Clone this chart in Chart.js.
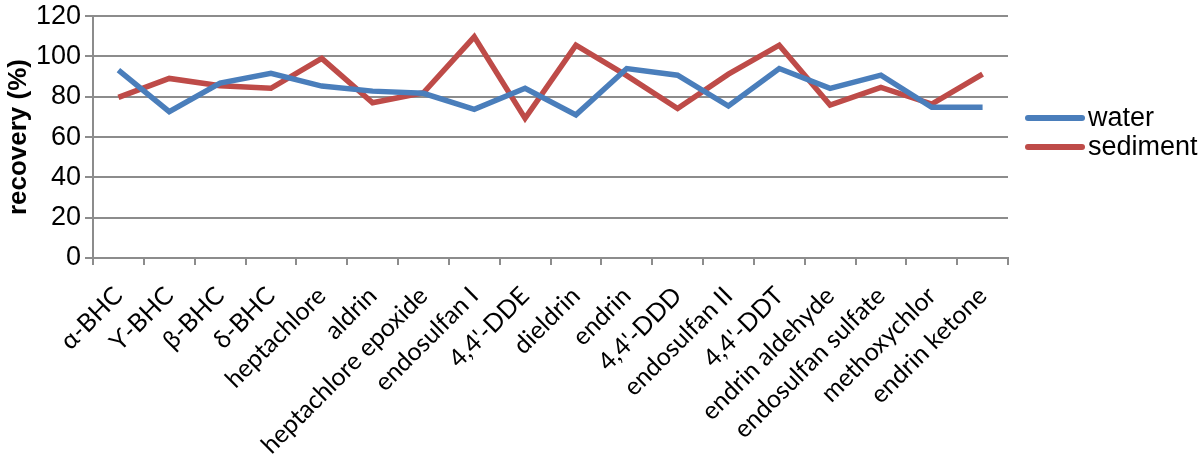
<!DOCTYPE html>
<html>
<head>
<meta charset="utf-8">
<script src="https://cdn.jsdelivr.net/npm/chart.js@4"></script>
<style>
  html, body { margin: 0; padding: 0; background: #fff; }
  #wrap { position: relative; width: 1200px; height: 457px; overflow: hidden; }
  #legend { position: absolute; left: 1025px; top: 103px; font-family: 'Liberation Sans', Arial, sans-serif; font-size: 27px; color: #000; }
  .item { display: flex; align-items: center; height: 29px; white-space: nowrap; }
  .swatch { width: 60px; height: 6px; border-radius: 3px; margin-right: 3px; }
</style>
</head>
<body>
<div id="wrap">
  <canvas id="recoveryChart" width="1200" height="457"></canvas>
  <div id="legend"></div>
</div>
<script>
// pesticides on the x axis
const compounds = ['α-BHC', 'Ƴ-BHC', 'β-BHC', 'δ-BHC', 'heptachlore', 'aldrin',
  'heptachlore epoxide', 'endosulfan I', "4,4'-DDE", 'dieldrin', 'endrin', "4,4'-DDD",
  'endosulfan II', "4,4'-DDT", 'endrin aldehyde', 'endosulfan sulfate', 'methoxychlor', 'endrin ketone'];

// recovery (%)
const water = [93.2, 72.6, 86.8, 91.6, 85.3, 82.8, 81.7, 73.8, 84.2, 71, 94, 90.7, 75.4, 94, 84.2, 90.7, 74.8, 74.8];
const sediment = [79.7, 89.1, 85.5, 84.2, 99, 77, 82, 109.7, 69.3, 105.6, 90.5, 74.2, 91.2, 105.6, 75.9, 84.6, 76.4, 91.2];

const yTicks = [0, 20, 40, 60, 80, 100, 120];

const gridGrey = '#8c8c8c';

const chart = new Chart(document.getElementById('recoveryChart'), {
  type: 'line',
  data: {
    labels: compounds,
    datasets: [
      { label: 'water', data: water, borderColor: '#4a7ebb', backgroundColor: '#4a7ebb',
        borderWidth: 5.5, pointRadius: 0, tension: 0 },
      { label: 'sediment', data: sediment, borderColor: '#be4b48', backgroundColor: '#be4b48',
        borderWidth: 5.5, pointRadius: 0, tension: 0 }
    ]
  },
  options: {
    responsive: false,
    animation: false,
    layout: { padding: { top: 0, right: 192, left: 0, bottom: 0 } },
    plugins: {
      tooltip: { enabled: false },
      legend: { display: false }
    },
    scales: {
      x: {
        offset: true,
        grid: { offset: true, drawOnChartArea: false, color: gridGrey, lineWidth: 2, tickLength: 7 },
        border: { color: gridGrey, width: 2 },
        ticks: {
          autoSkip: false, minRotation: 45, maxRotation: 45, color: '#000', padding: 16,
          font: { family: 'Lato', size: 25 }
        },
        afterFit: (scale) => { scale.height = 199; }
      },
      y: {
        min: 0, max: 120,
        afterBuildTicks: (scale) => { scale.ticks = yTicks.map(v => ({ value: v })); },
        grid: { color: gridGrey, lineWidth: 2, tickLength: 8 },
        border: { color: gridGrey, width: 2 },
        ticks: { color: '#000', padding: 4, font: { family: 'Liberation Sans', size: 27, lineHeight: 0.9 } },
        title: {
          display: true, text: 'recovery (%)', color: '#000', padding: { top: 3, bottom: 0 },
          font: { family: 'Liberation Sans', size: 26, weight: 'bold' }
        },
        afterFit: (scale) => { scale.width = 93; }
      }
    }
  }
});

// legend built from the chart's datasets
const legendEl = document.getElementById('legend');
chart.data.datasets.forEach(ds => {
  const row = document.createElement('div');
  row.className = 'item';
  const sw = document.createElement('span');
  sw.className = 'swatch';
  sw.style.background = ds.borderColor;
  const txt = document.createElement('span');
  txt.textContent = ds.label;
  row.appendChild(sw);
  row.appendChild(txt);
  legendEl.appendChild(row);
});
</script>
</body>
</html>
